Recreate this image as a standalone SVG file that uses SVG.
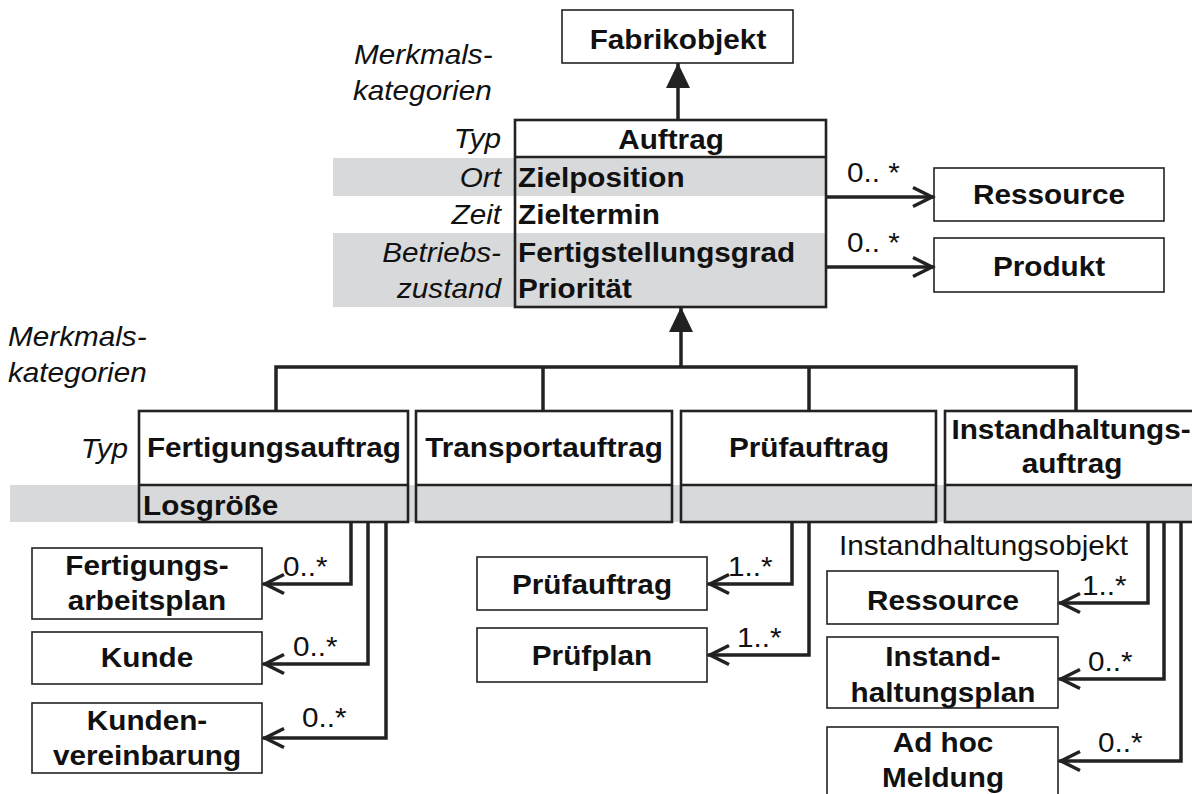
<svg xmlns="http://www.w3.org/2000/svg" width="1192" height="794" viewBox="0 0 1192 794">
  <defs>
    <style>
      text { font-family: "Liberation Sans", Arial, sans-serif; font-size: 27px; fill: #111; }
      .b { font-weight: bold; }
      .i { font-style: italic; }
      .c { text-anchor: middle; }
      .e { text-anchor: end; }
      .band { fill: #d8d9db; }
      .box { fill: none; stroke: #222; stroke-width: 1.6; }
      .cls { fill: none; stroke: #222; stroke-width: 2.6; }
      .wire { fill: none; stroke: #222; stroke-width: 3.5; }
    </style>
    <!-- filled triangle for generalisation -->
    <marker id="inh" viewBox="-26 -13 28 26" refX="0" refY="0" markerWidth="28" markerHeight="26" markerUnits="userSpaceOnUse" orient="auto">
      <path d="M-25,-12 L0,0 L-25,12 Z" fill="#222"/>
    </marker>
    <!-- open chevron for associations -->
    <marker id="open" viewBox="-24 -13 26 26" refX="0" refY="0" markerWidth="26" markerHeight="26" markerUnits="userSpaceOnUse" orient="auto">
      <path d="M-21,-9.5 L-2,0 L-21,9.5" fill="none" stroke="#222" stroke-width="3.5"/>
    </marker>
  </defs>

  <!-- shaded attribute rows -->
  <rect class="band" x="333" y="158" width="493" height="38"/>
  <rect class="band" x="333" y="233" width="493" height="74"/>
  <rect class="band" x="10" y="485" width="1182" height="37"/>

  <!-- category captions (all labels use a slightly widened face) -->
  <g id="captions">
    <text class="i" transform="translate(354 64) scale(1.1 1)">Merkmals-</text>
    <text class="i" transform="translate(353 100) scale(1.1 1)">kategorien</text>
    <text class="i e" transform="translate(501 148) scale(1.1 1)">Typ</text>
    <text class="i e" transform="translate(501 187) scale(1.1 1)">Ort</text>
    <text class="i e" transform="translate(501 224) scale(1.1 1)">Zeit</text>
    <text class="i e" transform="translate(501 262) scale(1.1 1)">Betriebs-</text>
    <text class="i e" transform="translate(501 298) scale(1.1 1)">zustand</text>
    <text class="i" transform="translate(8 346) scale(1.1 1)">Merkmals-</text>
    <text class="i" transform="translate(8 382) scale(1.1 1)">kategorien</text>
    <text class="i e" transform="translate(128 458) scale(1.1 1)">Typ</text>
  </g>

  <g id="fabrikobjekt">
    <rect class="box" x="562" y="10" width="231" height="53"/>
    <text class="b c" transform="translate(678 49) scale(1.1 1)">Fabrikobjekt</text>
  </g>

  <g id="auftrag">
    <rect class="cls" x="515" y="120" width="311" height="187"/>
    <line class="cls" x1="515" y1="157" x2="826" y2="157"/>
    <text class="b c" transform="translate(671 149) scale(1.1 1)">Auftrag</text>
    <text class="b" transform="translate(518 187) scale(1.1 1)">Zielposition</text>
    <text class="b" transform="translate(518 224) scale(1.1 1)">Zieltermin</text>
    <text class="b" transform="translate(518 262) scale(1.1 1)">Fertigstellungsgrad</text>
    <text class="b" transform="translate(518 298) scale(1.1 1)">Priorität</text>
  </g>

  <g id="ressource-top">
    <rect class="box" x="934" y="168" width="230" height="53"/>
    <text class="b c" transform="translate(1049 204) scale(1.1 1)">Ressource</text>
  </g>

  <g id="produkt">
    <rect class="box" x="934" y="238" width="230" height="54"/>
    <text class="b c" transform="translate(1049 276) scale(1.1 1)">Produkt</text>
  </g>

  <g id="fertigungsauftrag">
    <rect class="cls" x="139" y="411" width="269" height="111"/>
    <line class="cls" x1="139" y1="485" x2="408" y2="485"/>
    <text class="b c" transform="translate(274 457) scale(1.1 1)">Fertigungsauftrag</text>
    <text class="b" transform="translate(143 515) scale(1.1 1)">Losgröße</text>
  </g>

  <g id="transportauftrag">
    <rect class="cls" x="416" y="411" width="256" height="111"/>
    <line class="cls" x1="416" y1="485" x2="672" y2="485"/>
    <text class="b c" transform="translate(544 457) scale(1.1 1)">Transportauftrag</text>
  </g>

  <g id="pruefauftrag">
    <rect class="cls" x="681" y="411" width="255" height="111"/>
    <line class="cls" x1="681" y1="485" x2="936" y2="485"/>
    <text class="b c" transform="translate(809 457) scale(1.1 1)">Prüfauftrag</text>
  </g>

  <g id="instandhaltungsauftrag">
    <rect class="cls" x="945" y="411" width="260" height="111"/>
    <line class="cls" x1="945" y1="485" x2="1205" y2="485"/>
    <text class="b c" transform="translate(1071 439) scale(1.1 1)">Instandhaltungs-</text>
    <text class="b c" transform="translate(1072 473) scale(1.1 1)">auftrag</text>
  </g>

  <g id="fertigungsarbeitsplan">
    <rect class="box" x="32" y="548" width="230" height="71"/>
    <text class="b c" transform="translate(147 575) scale(1.1 1)">Fertigungs-</text>
    <text class="b c" transform="translate(147 610) scale(1.1 1)">arbeitsplan</text>
  </g>

  <g id="kunde">
    <rect class="box" x="32" y="632" width="230" height="52"/>
    <text class="b c" transform="translate(147 667) scale(1.1 1)">Kunde</text>
  </g>

  <g id="kundenvereinbarung">
    <rect class="box" x="32" y="703" width="230" height="70"/>
    <text class="b c" transform="translate(147 730) scale(1.1 1)">Kunden-</text>
    <text class="b c" transform="translate(147 765) scale(1.1 1)">vereinbarung</text>
  </g>

  <g id="pruefauftrag-ref">
    <rect class="box" x="477" y="557" width="230" height="53"/>
    <text class="b c" transform="translate(592 594) scale(1.1 1)">Prüfauftrag</text>
  </g>

  <g id="pruefplan">
    <rect class="box" x="477" y="628" width="230" height="54"/>
    <text class="b c" transform="translate(592 665) scale(1.1 1)">Prüfplan</text>
  </g>

  <g id="ressource-ih">
    <text transform="translate(839 555) scale(1.1 1)">Instandhaltungsobjekt</text>
    <rect class="box" x="827" y="571" width="231" height="53"/>
    <text class="b c" transform="translate(943 610) scale(1.1 1)">Ressource</text>
  </g>

  <g id="instandhaltungsplan">
    <rect class="box" x="827" y="637" width="231" height="71"/>
    <text class="b c" transform="translate(943 666) scale(1.1 1)">Instand-</text>
    <text class="b c" transform="translate(943 702) scale(1.1 1)">haltungsplan</text>
  </g>

  <g id="adhoc-meldung">
    <rect class="box" x="827" y="727" width="231" height="80"/>
    <text class="b c" transform="translate(943 752) scale(1.1 1)">Ad hoc</text>
    <text class="b c" transform="translate(943 787) scale(1.1 1)">Meldung</text>
  </g>

  <g id="connectors">
    <!-- generalisations -->
    <line class="wire" x1="678" y1="120" x2="678" y2="63" marker-end="url(#inh)"/>
    <path class="wire" d="M276,411 V367 H1076 V411 M543,367 V411 M809,367 V411"/>
    <line class="wire" x1="681" y1="367" x2="681" y2="307" marker-end="url(#inh)"/>

    <!-- Auftrag associations -->
    <line class="wire" x1="826" y1="197" x2="934" y2="197" marker-end="url(#open)"/>
    <line class="wire" x1="826" y1="267" x2="934" y2="267" marker-end="url(#open)"/>

    <!-- Fertigungsauftrag associations -->
    <path class="wire" d="M351,522 V584 H263" marker-end="url(#open)"/>
    <path class="wire" d="M368,522 V664 H263" marker-end="url(#open)"/>
    <path class="wire" d="M386,522 V738 H263" marker-end="url(#open)"/>

    <!-- Prüfauftrag associations -->
    <path class="wire" d="M792,522 V584 H708" marker-end="url(#open)"/>
    <path class="wire" d="M809,522 V655 H708" marker-end="url(#open)"/>

    <!-- Instandhaltungsauftrag associations -->
    <path class="wire" d="M1148,522 V603 H1059" marker-end="url(#open)"/>
    <path class="wire" d="M1164,522 V679 H1059" marker-end="url(#open)"/>
    <path class="wire" d="M1181,522 V761 H1059" marker-end="url(#open)"/>

    <!-- multiplicities -->
    <text transform="translate(847 182) scale(1.1 1)">0.. *</text>
    <text transform="translate(847 252) scale(1.1 1)">0.. *</text>
    <text transform="translate(283 576) scale(1.1 1)">0..*</text>
    <text transform="translate(293 656) scale(1.1 1)">0..*</text>
    <text transform="translate(302 727) scale(1.1 1)">0..*</text>
    <text transform="translate(728 576) scale(1.1 1)">1..*</text>
    <text transform="translate(737 647) scale(1.1 1)">1..*</text>
    <text transform="translate(1082 595) scale(1.1 1)">1..*</text>
    <text transform="translate(1088 671) scale(1.1 1)">0..*</text>
    <text transform="translate(1098 752) scale(1.1 1)">0..*</text>
  </g>
</svg>
